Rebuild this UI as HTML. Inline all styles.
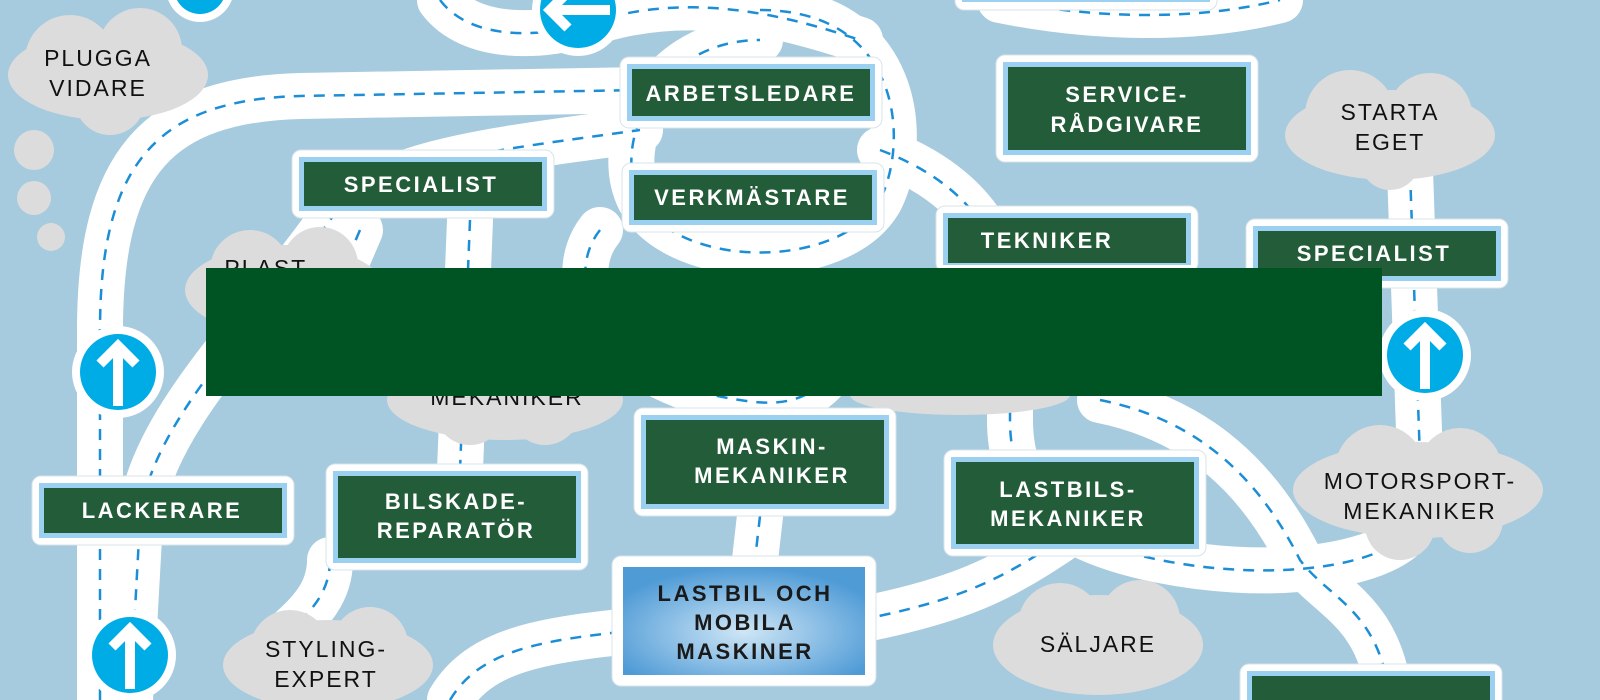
<!DOCTYPE html>
<html><head><meta charset="utf-8"><style>
body{margin:0;width:1600px;height:700px;overflow:hidden;background:#a6cade}
svg{display:block}
.rd{fill:none;stroke:#fff;stroke-width:46;stroke-linecap:round;stroke-linejoin:round}
.dl{fill:none;stroke:#1b8ed6;stroke-width:2.5;stroke-dasharray:11 9}
.so{fill:#fff;stroke:#d8e4ea;stroke-width:1}
.sb{fill:#9cd0f0}
.sg{fill:#235c39}
.st{font-family:"Liberation Sans",sans-serif;font-weight:bold;fill:#fff;font-size:22px;letter-spacing:2.5px;text-anchor:middle}
.cl{fill:#dcdcdc}
.ct{font-family:"Liberation Sans",sans-serif;fill:#111;font-size:23px;letter-spacing:2px;text-anchor:middle}
</style></head><body>
<svg width="1600" height="700" viewBox="0 0 1600 700">
<defs>
<radialGradient id="bg" cx="50%" cy="60%" r="60%"><stop offset="0" stop-color="#cfe6f6"/><stop offset="1" stop-color="#4f9bd6"/></radialGradient>
<path id="r1" d="M100,700 L100,330 C100,160 160,100 300,96 L640,90"/>
<path id="r2" d="M130,700 L140,520 C150,420 260,320 330,220 C380,160 500,150 640,130"/>
<path id="r3" d="M760,10 C900,10 910,140 880,200 C840,270 680,270 640,200 C610,140 660,40 760,40"/>
<path id="r4" d="M440,0 C470,40 540,40 600,20 C700,-10 800,20 860,40"/>
<path id="r5" d="M880,150 C960,180 1000,230 1010,300 L1010,420 C1010,500 1060,540 1160,560 C1260,580 1360,570 1400,540"/>
<path id="r6" d="M1410,170 L1420,460"/>
<path id="r7" d="M1100,400 C1200,420 1260,480 1300,560 C1330,600 1380,610 1390,700"/>
<path id="r8" d="M450,700 C480,650 540,640 640,630"/>
<path id="r9" d="M860,620 C960,600 1000,580 1060,540"/>
<path id="r10" d="M760,516 L755,560"/>
<path id="r11" d="M470,220 L460,470"/>
<path id="r12" d="M330,560 C330,600 300,620 280,640"/>
<path id="r14" d="M600,230 C560,280 600,380 740,400 C800,410 820,390 840,360"/>
<path id="r15" d="M1000,0 C1100,20 1200,20 1280,0"/>
<path id="r16" d="M360,230 L330,300"/>
</defs>
<g class="rd">
<use href="#r1"/><use href="#r2"/><use href="#r3"/><use href="#r4"/><use href="#r5"/><use href="#r6"/><use href="#r7"/><use href="#r8"/><use href="#r9"/><use href="#r10"/><use href="#r11"/><use href="#r12"/><use href="#r14"/><use href="#r15"/><use href="#r16"/>
</g>
<g class="dl">
<use href="#r1"/><use href="#r2"/><use href="#r3"/><use href="#r4"/><use href="#r5"/><use href="#r6"/><use href="#r7"/><use href="#r8"/><use href="#r9"/><use href="#r10"/><use href="#r11"/><use href="#r12"/><use href="#r14"/><use href="#r15"/><use href="#r16"/>
</g>

<g class="cl">
<ellipse cx="108" cy="75" rx="100" ry="45"/><circle cx="70" cy="60" r="45"/><circle cx="140" cy="50" r="42"/><circle cx="110" cy="100" r="35"/>
<circle cx="34" cy="150" r="20"/><circle cx="34" cy="198" r="17"/><circle cx="51" cy="237" r="14"/>
<ellipse cx="285" cy="290" rx="100" ry="45"/><circle cx="250" cy="270" r="40"/><circle cx="320" cy="265" r="38"/>
<ellipse cx="505" cy="400" rx="118" ry="40"/><circle cx="470" cy="410" r="35"/><circle cx="545" cy="410" r="35"/>
<ellipse cx="1390" cy="135" rx="105" ry="45"/><circle cx="1350" cy="115" r="45"/><circle cx="1430" cy="115" r="42"/><circle cx="1390" cy="160" r="30"/>
<ellipse cx="1418" cy="490" rx="125" ry="48"/><circle cx="1380" cy="470" r="45"/><circle cx="1460" cy="470" r="42"/><circle cx="1400" cy="525" r="35"/><circle cx="1470" cy="520" r="33"/>
<ellipse cx="1098" cy="645" rx="105" ry="50"/><circle cx="1060" cy="625" r="42"/><circle cx="1140" cy="620" r="40"/>
<ellipse cx="328" cy="665" rx="105" ry="45"/><circle cx="290" cy="650" r="40"/><circle cx="370" cy="645" r="38"/>
<ellipse cx="960" cy="395" rx="110" ry="20"/>
</g>
<text class="ct" x="98" y="66">PLUGGA</text><text class="ct" x="98" y="96">VIDARE</text>
<text class="ct" x="270" y="276">PLAST-</text>
<text class="ct" x="507" y="405">MEKANIKER</text>
<text class="ct" x="1390" y="120">STARTA</text><text class="ct" x="1390" y="150">EGET</text>
<text class="ct" x="1420" y="489">MOTORSPORT-</text><text class="ct" x="1420" y="519">MEKANIKER</text>
<text class="ct" x="1098" y="652">SÄLJARE</text>
<text class="ct" x="326" y="657">STYLING-</text><text class="ct" x="326" y="687">EXPERT</text>

<g>
<circle cx="118" cy="372" r="46" fill="#fff"/><circle cx="118" cy="372" r="38" fill="#00ace6"/>
<path d="M118,406 L118,346 M100,364 L118,346 L136,364" stroke="#fff" stroke-width="10" fill="none"/>
<circle cx="1425" cy="355" r="46" fill="#fff"/><circle cx="1425" cy="355" r="38" fill="#00ace6"/>
<path d="M1425,389 L1425,329 M1407,347 L1425,329 L1443,347" stroke="#fff" stroke-width="10" fill="none"/>
<circle cx="130" cy="655" r="46" fill="#fff"/><circle cx="130" cy="655" r="38" fill="#00ace6"/>
<path d="M130,689 L130,629 M112,647 L130,629 L148,647" stroke="#fff" stroke-width="10" fill="none"/>
<circle cx="578" cy="10" r="46" fill="#fff"/><circle cx="578" cy="10" r="38" fill="#00ace6"/>
<path d="M610,10 L550,10 M568,-8 L550,10 L568,28" stroke="#fff" stroke-width="10" fill="none"/>
<circle cx="200" cy="-12" r="34" fill="#fff"/><circle cx="200" cy="-12" r="26" fill="#00ace6"/>
</g>

<g>
<rect class="so" x="620" y="57" width="262" height="71" rx="9"/><rect class="sb" x="627" y="64" width="248" height="57"/><rect class="sg" x="632" y="69" width="238" height="47"/>
<text class="st" x="751" y="101">ARBETSLEDARE</text>
<rect class="so" x="996" y="55" width="262" height="107" rx="9"/><rect class="sb" x="1003" y="62" width="248" height="93"/><rect class="sg" x="1008" y="67" width="238" height="83"/>
<text class="st" x="1127" y="102">SERVICE-</text><text class="st" x="1127" y="132">RÅDGIVARE</text>
<rect class="so" x="292" y="150" width="262" height="68" rx="9"/><rect class="sb" x="299" y="157" width="248" height="54"/><rect class="sg" x="304" y="162" width="238" height="44"/>
<text class="st" x="421" y="192">SPECIALIST</text>
<rect class="so" x="622" y="163" width="262" height="69" rx="9"/><rect class="sb" x="629" y="170" width="248" height="55"/><rect class="sg" x="634" y="175" width="238" height="45"/>
<text class="st" x="752" y="205">VERKMÄSTARE</text>
<rect class="so" x="936" y="206" width="262" height="66" rx="9"/><rect class="sb" x="943" y="213" width="248" height="52"/><rect class="sg" x="948" y="218" width="238" height="45"/>
<text class="st" x="1047" y="248">TEKNIKER</text>
<rect class="so" x="1246" y="219" width="262" height="69" rx="9"/><rect class="sb" x="1253" y="226" width="248" height="55"/><rect class="sg" x="1258" y="231" width="238" height="45"/>
<text class="st" x="1374" y="261">SPECIALIST</text>
<rect class="so" x="634" y="408" width="262" height="108" rx="9"/><rect class="sb" x="641" y="415" width="248" height="94"/><rect class="sg" x="646" y="420" width="238" height="84"/>
<text class="st" x="772" y="454">MASKIN-</text><text class="st" x="772" y="483">MEKANIKER</text>
<rect class="so" x="944" y="450" width="262" height="106" rx="9"/><rect class="sb" x="951" y="457" width="248" height="92"/><rect class="sg" x="956" y="462" width="238" height="82"/>
<text class="st" x="1068" y="497">LASTBILS-</text><text class="st" x="1068" y="526">MEKANIKER</text>
<rect class="so" x="32" y="476" width="262" height="69" rx="9"/><rect class="sb" x="39" y="483" width="248" height="55"/><rect class="sg" x="44" y="488" width="238" height="45"/>
<text class="st" x="162" y="518">LACKERARE</text>
<rect class="so" x="326" y="464" width="262" height="106" rx="9"/><rect class="sb" x="333" y="471" width="248" height="92"/><rect class="sg" x="338" y="476" width="238" height="82"/>
<text class="st" x="456" y="509">BILSKADE-</text><text class="st" x="456" y="538">REPARATÖR</text>
<rect class="so" x="612" y="556" width="264" height="130" rx="9"/><rect fill="url(#bg)" x="623" y="567" width="242" height="108"/>
<text class="st" x="745" y="601" style="fill:#1a1a1a">LASTBIL OCH</text><text class="st" x="745" y="630" style="fill:#1a1a1a">MOBILA</text><text class="st" x="745" y="659" style="fill:#1a1a1a">MASKINER</text>
<rect class="so" x="1240" y="664" width="262" height="60" rx="9"/><rect class="sb" x="1247" y="671" width="248" height="50"/><rect class="sg" x="1252" y="676" width="238" height="40"/>
<rect class="so" x="955" y="-50" width="262" height="60" rx="9"/><rect class="sb" x="962" y="-50" width="248" height="52"/>
</g>

<rect x="206" y="268" width="1176" height="128" fill="#005322"/>
</svg>
</body></html>
